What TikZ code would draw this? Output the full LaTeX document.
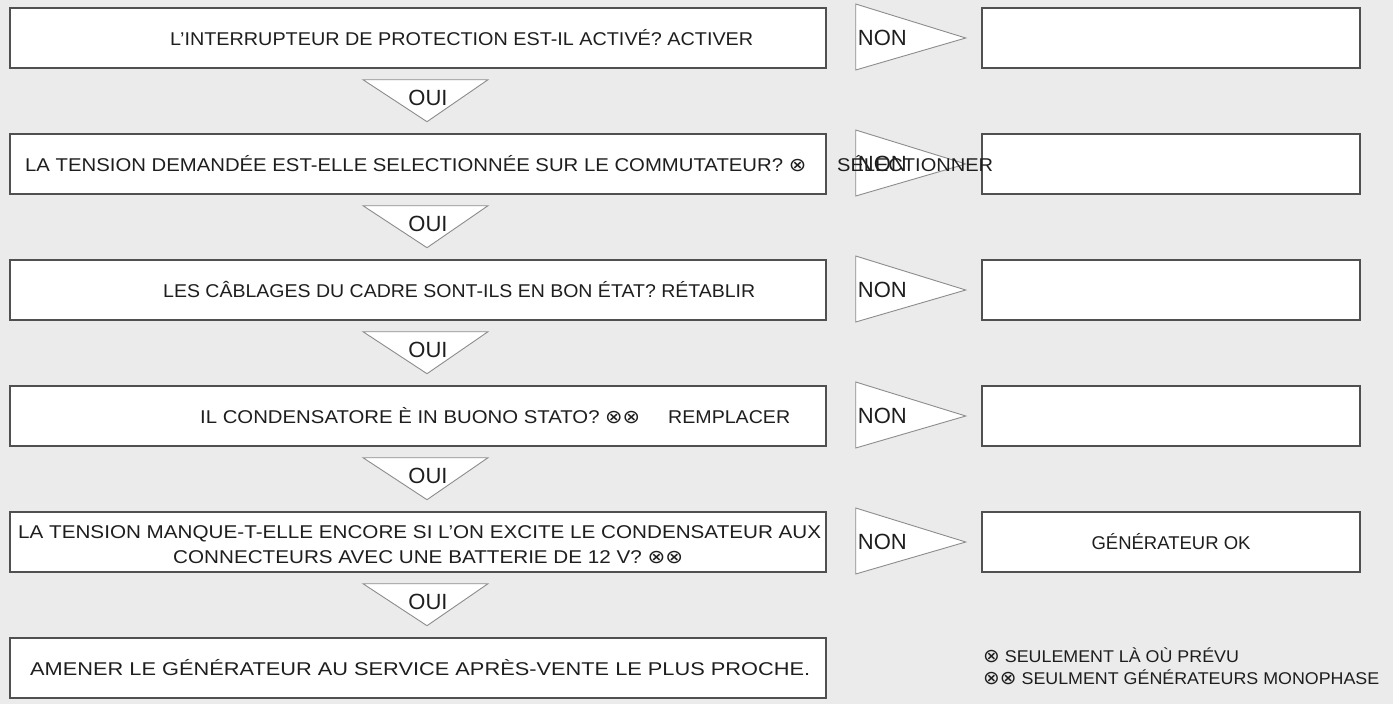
\documentclass[tikz,border=0pt]{standalone}
\usepackage{fontspec}
\setmainfont{Liberation Sans}
\newfontfamily\symfont{DejaVu Sans}
\usetikzlibrary{calc}
\definecolor{bgcol}{HTML}{EBEBEB}
\definecolor{boxline}{HTML}{505050}
\definecolor{triline}{HTML}{8C8C8C}
\definecolor{txtcol}{HTML}{1E1E1E}
\newcommand{\ox}{{\symfont\fontsize{19}{19}\selectfont ⊗}}
\newcommand{\fitx}[2]{\resizebox{#1}{\height}{#2}}
\tikzset{
  qbox/.style={draw=boxline, line width=1.4pt, fill=white, inner sep=0pt, minimum height=60pt, minimum width=816pt},
  rbox/.style={draw=boxline, line width=1.4pt, fill=white, inner sep=0pt, minimum height=60pt, minimum width=378pt},
  tri/.style={draw=triline, line width=0.9pt, fill=white, line join=miter},
  txt/.style={inner sep=0pt, anchor=base west, text=txtcol, font=\fontsize{18.5}{21}\selectfont},
  lbl/.style={inner sep=0pt, text=txtcol, font=\fontsize{22}{24}\selectfont},
  foot/.style={inner sep=0pt, anchor=base west, text=txtcol, font=\fontsize{17}{20}\selectfont},
}
\begin{document}
\begin{tikzpicture}[x=1pt,y=-1pt]
\useasboundingbox (0,0) rectangle (1393,704);
\fill[bgcol] (0,0) rectangle (1393,704);

% left question boxes
\node[qbox] (q1) at (418,38) {};
\node[qbox] (q2) at (418,164) {};
\node[qbox] (q3) at (418,290) {};
\node[qbox] (q4) at (418,416) {};
\node[qbox] (q5) at (418,542) {};
\node[qbox] (q6) at (418,668) {};

% right answer boxes
\node[rbox] (r1) at (1171,38) {};
\node[rbox] (r2) at (1171,164) {};
\node[rbox] (r3) at (1171,290) {};
\node[rbox] (r4) at (1171,416) {};
\node[rbox] (r5) at (1171,542) {};

% OUI triangles
\foreach \i in {1,...,5}{
  \draw[tri] ($(q\i.south)+(-55,11)$) -- ($(q\i.south)+(70,11)$) -- ($(q\i.south)+(9,53)$) -- cycle;
  \node[lbl] (oui\i) at ($(q\i.south)+(10,29)$) {OUI};
}

% NON triangles
\foreach \i in {1,...,5}{
  \draw[tri] ($(q\i.east)+(29,-34)$) -- ($(q\i.east)+(139,0)$) -- ($(q\i.east)+(29,32)$) -- cycle;
  \node[lbl, anchor=west] (non\i) at ($(q\i.east)+(31,0)$) {NON};
}

% texts
\node[txt] (t1) at (170,45.5) {\fitx{583pt}{L’INTERRUPTEUR DE PROTECTION EST-IL ACTIVÉ? ACTIVER}};
\node[txt] (t2) at (25,171.5) {\fitx{781pt}{LA TENSION DEMANDÉE EST-ELLE SELECTIONNÉE SUR LE COMMUTATEUR? \ox}};
\node[txt] (t2b) at (837,171.5) {\fitx{156pt}{SÉLECTIONNER}};
\node[txt] (t3) at (163,297.5) {\fitx{592pt}{LES CÂBLAGES DU CADRE SONT-ILS EN BON ÉTAT? RÉTABLIR}};
\node[txt] (t4) at (200,423.5) {\fitx{440pt}{IL CONDENSATORE È IN BUONO STATO? \ox\ox}};
\node[txt] (t4b) at (668,423.5) {\fitx{122pt}{REMPLACER}};
\node[txt] (t5a) at (18,538.5) {\fitx{803pt}{LA TENSION MANQUE-T-ELLE ENCORE SI L’ON EXCITE LE CONDENSATEUR AUX}};
\node[txt] (t5b) at (173,563.5) {\fitx{510pt}{CONNECTEURS AVEC UNE BATTERIE DE 12 V? \ox\ox}};
\node[txt] (t6) at (30,675.5) {\fitx{780pt}{AMENER LE GÉNÉRATEUR AU SERVICE APRÈS-VENTE LE PLUS PROCHE.}};
\node[txt, anchor=base] (g5) at (1171,549.5) {GÉNÉRATEUR OK};

% footnotes
\node[foot] (f1) at (983,662) {\scalebox{1.05}[1]{\ox\ SEULEMENT LÀ OÙ PRÉVU}};
\node[foot] (f2) at (983,684) {\scalebox{1.05}[1]{\ox\ox\ SEULMENT GÉNÉRATEURS MONOPHASE}};
\end{tikzpicture}
\end{document}
